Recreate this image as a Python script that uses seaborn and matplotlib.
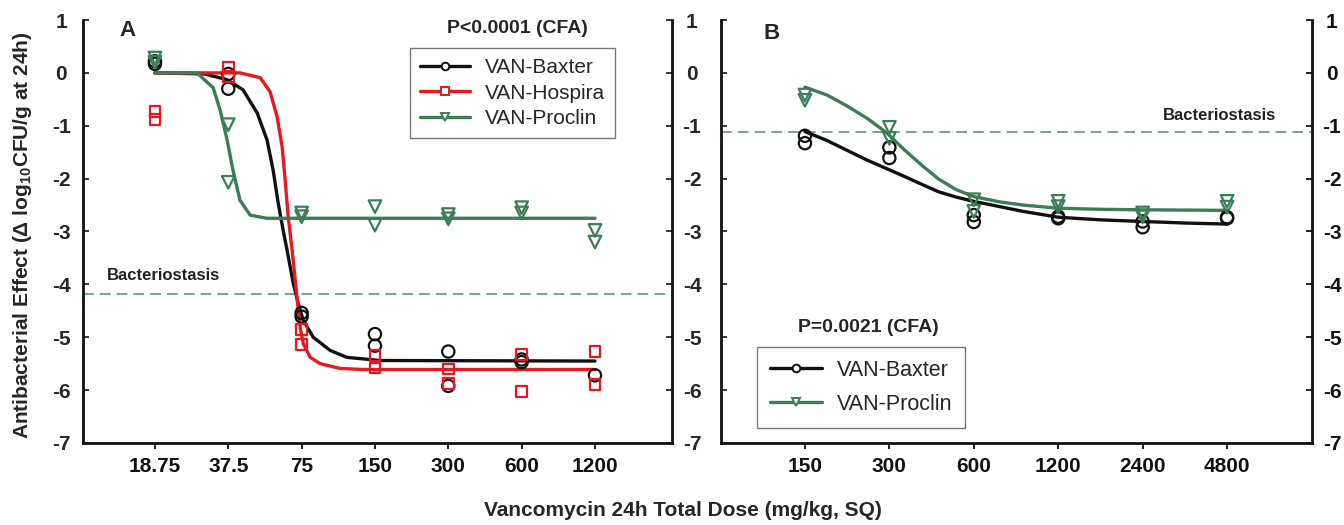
import matplotlib
matplotlib.use('Agg')
import matplotlib.pyplot as plt
from matplotlib.lines import Line2D
from matplotlib.ticker import NullLocator, FixedLocator, FixedFormatter
import pandas as pd
import seaborn as sns

# ---------------- data ----------------
# Panel A
dose_ticks_A = [18.75, 37.5, 75, 150, 300, 600, 1200]
dose_labels_A = ["18.75", "37.5", "75", "150", "300", "600", "1200"]

baxter_A_x = [18.75, 18.75, 37.5, 37.5, 75, 75, 150, 150, 300, 300, 600, 600, 1200]
baxter_A_y = [0.22, 0.17, -0.02, -0.30, -4.54, -4.61, -4.94, -5.16, -5.27, -5.92, -5.42, -5.47, -5.72]

hospira_A_x = [18.75, 18.75, 37.5, 37.5, 75, 75, 150, 150, 300, 300, 600, 600, 1200, 1200]
hospira_A_y = [-0.73, -0.88, 0.10, -0.07, -4.86, -5.14, -5.35, -5.58, -5.60, -5.87, -5.33, -6.02, -5.27, -5.90]

proclin_A_x = [18.75, 18.75, 37.5, 37.5, 75, 75, 150, 150, 300, 300, 600, 600, 1200, 1200]
proclin_A_y = [0.28, 0.20, -0.98, -2.07, -2.65, -2.72, -2.53, -2.88, -2.68, -2.76, -2.55, -2.65, -2.98, -3.20]

# fitted curves
baxter_A_fit_x = [18.75, 30, 37.1, 43.1, 49.3, 54.1, 57.3, 60.1, 63.0, 65.4, 69.3, 72.6, 76.2, 83.7, 98.3, 115, 157, 1200]
baxter_A_fit_y = [0.0, -0.02, -0.13, -0.32, -0.76, -1.27, -1.84, -2.46, -2.98, -3.36, -3.98, -4.36, -4.68, -5.0, -5.25, -5.38, -5.44, -5.45]

hospira_A_fit_x = [18.75, 41.9, 50.7, 55.7, 59.5, 62.4, 64.2, 66.1, 68.6, 71.3, 74.0, 76.2, 81.3, 89.4, 108, 134, 1200]
hospira_A_fit_y = [0.0, 0.0, -0.09, -0.36, -0.83, -1.40, -2.03, -2.73, -3.36, -4.11, -4.82, -5.12, -5.38, -5.50, -5.59, -5.61, -5.61]

proclin_A_fit_x = [18.75, 27.9, 32.5, 34.7, 37.1, 39.2, 41.9, 46.1, 54.1, 1200]
proclin_A_fit_y = [0.0, 0.0, -0.28, -0.70, -1.27, -1.84, -2.41, -2.69, -2.75, -2.75]

stasis_A = -4.18

# Panel B
dose_ticks_B = [150, 300, 600, 1200, 2400, 4800]
dose_labels_B = ["150", "300", "600", "1200", "2400", "4800"]

baxter_B_x = [150, 150, 300, 300, 600, 600, 1200, 1200, 2400, 2400, 4800, 4800]
baxter_B_y = [-1.19, -1.33, -1.41, -1.61, -2.69, -2.82, -2.72, -2.75, -2.81, -2.92, -2.73, -2.75]

proclin_B_x = [150, 150, 300, 300, 600, 600, 1200, 1200, 2400, 2400, 4800, 4800]
proclin_B_y = [-0.42, -0.52, -1.03, -1.24, -2.40, -2.62, -2.43, -2.53, -2.65, -2.72, -2.43, -2.54]

baxter_B_fit_x = [150, 180, 211, 250, 302, 350, 396, 450, 520, 600, 743, 900, 1200, 1700, 2400, 3400, 4800]
baxter_B_fit_y = [-1.11, -1.28, -1.46, -1.65, -1.84, -1.99, -2.12, -2.25, -2.35, -2.43, -2.53, -2.62, -2.73, -2.78, -2.81, -2.84, -2.86]

proclin_B_fit_x = [150, 180, 211, 250, 293, 340, 396, 450, 520, 600, 743, 900, 1200, 1700, 2400, 4800]
proclin_B_fit_y = [-0.27, -0.42, -0.62, -0.86, -1.13, -1.46, -1.77, -2.01, -2.21, -2.34, -2.44, -2.50, -2.56, -2.58, -2.59, -2.60]

stasis_B = -1.11

y_ticks = [1, 0, -1, -2, -3, -4, -5, -6, -7]

# ---------------- style ----------------
sns.set_style("ticks")
plt.rcParams['font.family'] = ['Liberation Sans', 'DejaVu Sans']
plt.rcParams['axes.unicode_minus'] = False
plt.rcParams['mathtext.fontset'] = 'custom'
plt.rcParams['mathtext.rm'] = 'Liberation Sans'
plt.rcParams['mathtext.bf'] = 'Liberation Sans:bold'
plt.rcParams['mathtext.default'] = 'bf'

BLACK = '#111111'
RED = '#e8191e'
GREEN = '#3b7d55'
DASH = '#4f8d66'

fig = plt.figure(figsize=(13.44, 5.25), dpi=100)
axA = fig.add_axes([83 / 1344, 0.1562, 589 / 1344, 0.8057])
axB = fig.add_axes([721 / 1344, 0.1562, 591 / 1344, 0.8057])

series_A = [
    ("VAN-Baxter", baxter_A_x, baxter_A_y, baxter_A_fit_x, baxter_A_fit_y, BLACK, 'o', 78),
    ("VAN-Hospira", hospira_A_x, hospira_A_y, hospira_A_fit_x, hospira_A_fit_y, RED, 's', 60),
    ("VAN-Proclin", proclin_A_x, proclin_A_y, proclin_A_fit_x, proclin_A_fit_y, GREEN, 'v', 82),
]
series_B = [
    ("VAN-Baxter", baxter_B_x, baxter_B_y, baxter_B_fit_x, baxter_B_fit_y, BLACK, 'o', 78),
    ("VAN-Proclin", proclin_B_x, proclin_B_y, proclin_B_fit_x, proclin_B_fit_y, GREEN, 'v', 82),
]


def draw_panel(ax, series):
    ax.set_xscale('log')
    for name, px, py, fx, fy, col, mk, sz in series:
        fit = pd.DataFrame({'dose': fx, 'effect': fy})
        sns.lineplot(data=fit, x='dose', y='effect', estimator=None, sort=False,
                     color=col, linewidth=2.4, ax=ax, zorder=3)
        pts = pd.DataFrame({'dose': px, 'effect': py})
        sns.scatterplot(data=pts, x='dose', y='effect', marker=mk, s=sz,
                        color=col, facecolor='none', edgecolor=col,
                        linewidth=1.6, ax=ax, zorder=4)
    handles = [Line2D([0], [0], color=col, lw=2.4, marker=mk, markersize=5.5,
                      markerfacecolor='white', markeredgecolor=col, markeredgewidth=1.4)
               for name, px, py, fx, fy, col, mk, sz in series]
    labels = [s[0] for s in series]
    return handles, labels


def style_axes(ax, xlim, ticks, labels):
    ax.set_xlim(*xlim)
    ax.set_ylim(-7, 1)
    ax.set_xlabel('')
    ax.set_ylabel('')
    ax.xaxis.set_major_locator(FixedLocator(ticks))
    ax.xaxis.set_major_formatter(FixedFormatter(labels))
    ax.xaxis.set_minor_locator(NullLocator())
    ax.set_yticks(y_ticks)
    ax.spines['top'].set_visible(False)
    for sp in ['left', 'right', 'bottom']:
        ax.spines[sp].set_linewidth(2.0)
        ax.spines[sp].set_color('#111111')
    ax.tick_params(axis='x', direction='out', length=4, width=1.3, pad=6,
                   labelsize=15, colors='#111111')
    for lbl in ax.get_xticklabels():
        lbl.set_fontweight('bold')


# ---------------- Panel A ----------------
hA, lA = draw_panel(axA, series_A)
style_axes(axA, (9.5, 2485), dose_ticks_A, dose_labels_A)
axA.tick_params(axis='y', direction='in', length=4, width=1.3, left=True, right=True,
                labelleft=True, labelright=False, pad=15.8, labelsize=15)
for lbl in axA.get_yticklabels():
    lbl.set_fontweight('bold')
    lbl.set_horizontalalignment('center')
axA.axhline(stasis_A, color=DASH, lw=1.1, dashes=(7, 4), zorder=1)
axA.text(11.9, stasis_A + 0.34, "Bacteriostasis", fontsize=12, fontweight='bold',
         color='#222222', ha='left', va='center')
axA.text(0.076, 0.975, "A", transform=axA.transAxes, fontsize=16, fontweight='bold',
         ha='center', va='center')
axA.text(0.737, 0.979, "P<0.0001 (CFA)", transform=axA.transAxes, fontsize=14,
         fontweight='bold', ha='center', va='center')
legA = axA.legend(hA, lA, loc='upper left', bbox_to_anchor=(0.555, 0.934),
                  fontsize=15, frameon=True, fancybox=False, edgecolor='#555555',
                  borderpad=0.5, labelspacing=0.3, handlelength=2.4,
                  handletextpad=0.7, borderaxespad=0)
legA.get_frame().set_linewidth(1.0)

axA.set_ylabel(r"Antibacterial Effect ($\Delta$ log$_{10}$CFU/g at 24h)",
               fontsize=15, fontweight='bold')
axA.yaxis.set_label_coords(-0.083, 0.492)

# ---------------- Panel B ----------------
hB, lB = draw_panel(axB, series_B)
style_axes(axB, (75.3, 9640), dose_ticks_B, dose_labels_B)
axB.tick_params(axis='y', direction='in', length=4, width=1.3, left=True, right=False,
                labelleft=True, labelright=False, pad=20.9, labelsize=15)
for lbl in axB.get_yticklabels():
    lbl.set_fontweight('bold')
    lbl.set_horizontalalignment('center')

axBr = axB.twinx()
axBr.set_ylim(-7, 1)
axBr.set_yticks(y_ticks)
for sp in axBr.spines.values():
    sp.set_visible(False)
axBr.tick_params(axis='y', direction='in', length=4, width=1.3, right=True,
                 labelright=True, pad=14.4, labelsize=15, colors='#111111')
for lbl in axBr.get_yticklabels():
    lbl.set_fontweight('bold')
    lbl.set_horizontalalignment('center')
axBr.grid(False)

axB.axhline(stasis_B, color=DASH, lw=1.1, dashes=(7, 4), zorder=1)
axB.text(7210, stasis_B + 0.31, "Bacteriostasis", fontsize=12, fontweight='bold',
         color='#222222', ha='right', va='center')
axB.text(0.086, 0.969, "B", transform=axB.transAxes, fontsize=16, fontweight='bold',
         ha='center', va='center')
axB.text(0.249, 0.274, "P=0.0021 (CFA)", transform=axB.transAxes, fontsize=14,
         fontweight='bold', ha='center', va='center')
legB = axB.legend(hB, lB, loc='upper left', bbox_to_anchor=(0.061, 0.227),
                  fontsize=15.5, frameon=True, fancybox=False, edgecolor='#555555',
                  borderpad=0.6, labelspacing=0.6, handlelength=2.4,
                  handletextpad=0.7, borderaxespad=0)
legB.get_frame().set_linewidth(1.0)

fig.text(0.508, 1 - 510 / 525, "Vancomycin 24h Total Dose (mg/kg, SQ)", fontsize=15,
         fontweight='bold', ha='center', va='center')

fig.savefig('out.png', dpi=100, facecolor='white')
